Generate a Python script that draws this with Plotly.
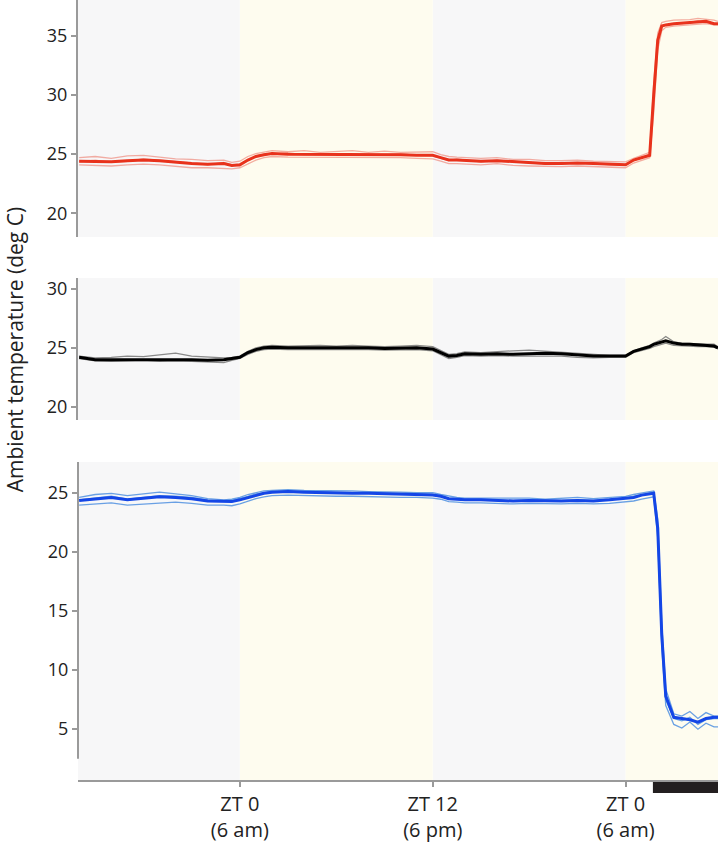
import plotly.graph_objects as go
from plotly.subplots import make_subplots

# time in hours relative to the first ZT 0 (6 am)
hours = [-10, -9, -8, -7, -6, -5, -4, -3, -2, -1, -0.5, 0, 0.5, 1, 1.5, 2, 3, 4, 5, 6,
         7, 8, 9, 10, 11, 12, 12.5, 13, 13.5, 14, 15, 16, 17, 18, 19, 20, 21, 22, 23, 24,
         24.5, 25, 25.5, 25.75, 26, 26.25, 26.5, 27, 27.5, 28, 28.5, 29, 29.5, 29.75]

# hot panel (red)
hot_mean = [24.4, 24.4, 24.35, 24.45, 24.5, 24.45, 24.3, 24.2, 24.15, 24.2, 24.05, 24.1, 24.5, 24.8, 24.95, 25.05, 25.0, 25.0, 24.95, 25.0,
            25.0, 24.95, 25.0, 24.95, 24.9, 24.9, 24.7, 24.5, 24.5, 24.45, 24.4, 24.45, 24.35, 24.3, 24.2, 24.2, 24.25, 24.2, 24.15, 24.1,
            24.5, 24.7, 24.9, 30.0, 34.6, 35.8, 35.9, 36.0, 36.05, 36.1, 36.2, 36.2, 36.0, 36.0]
hot_a = [24.7, 24.8, 24.65, 24.85, 24.9, 24.75, 24.6, 24.55, 24.45, 24.5, 24.3, 24.4, 24.8, 25.05, 25.2, 25.3, 25.2, 25.3, 25.15, 25.25,
         25.3, 25.15, 25.25, 25.15, 25.15, 25.2, 24.95, 24.8, 24.75, 24.7, 24.65, 24.7, 24.55, 24.55, 24.45, 24.45, 24.5, 24.4, 24.4, 24.35,
         24.65, 24.9, 25.15, 31.0, 35.2, 36.1, 36.2, 36.3, 36.3, 36.35, 36.45, 36.4, 36.3, 36.2]
hot_b = [24.1, 24.05, 24.0, 24.1, 24.15, 24.1, 23.95, 23.85, 23.85, 23.8, 23.75, 23.85, 24.2, 24.5, 24.7, 24.8, 24.75, 24.75, 24.7, 24.75,
         24.7, 24.7, 24.75, 24.7, 24.65, 24.6, 24.4, 24.2, 24.2, 24.15, 24.1, 24.2, 24.05, 24.0, 23.95, 23.95, 24.0, 23.95, 23.9, 23.85,
         24.25, 24.5, 24.7, 28.5, 33.8, 35.4, 35.7, 35.8, 35.85, 35.9, 35.95, 36.0, 35.9, 35.9]
hot_c = [24.35, 24.5, 24.3, 24.4, 24.6, 24.5, 24.35, 24.25, 24.1, 24.3, 24.1, 24.0, 24.45, 24.85, 25.0, 25.0, 25.1, 24.95, 25.0, 24.95,
         25.05, 24.9, 24.95, 25.05, 24.9, 24.85, 24.65, 24.45, 24.6, 24.5, 24.35, 24.5, 24.4, 24.3, 24.15, 24.3, 24.2, 24.25, 24.1, 24.05,
         24.45, 24.7, 24.95, 29.5, 34.4, 35.7, 35.9, 36.0, 36.0, 36.1, 36.25, 36.15, 36.0, 35.95]

# control panel (black)
ctl_mean = [24.2, 24.0, 24.0, 24.0, 24.05, 24.0, 24.05, 24.0, 23.95, 24.0, 24.1, 24.2, 24.6, 24.85, 25.0, 25.05, 25.0, 25.0, 25.05, 25.0,
            25.0, 25.0, 24.95, 25.0, 25.0, 24.9, 24.6, 24.3, 24.35, 24.5, 24.45, 24.5, 24.45, 24.5, 24.55, 24.5, 24.4, 24.3, 24.3, 24.3,
            24.7, 24.9, 25.1, 25.3, 25.4, 25.5, 25.6, 25.4, 25.3, 25.3, 25.25, 25.2, 25.15, 25.0]
ctl_a = [24.3, 24.15, 24.2, 24.3, 24.25, 24.4, 24.55, 24.3, 24.2, 24.15, 24.2, 24.3, 24.7, 25.0, 25.15, 25.2, 25.15, 25.2, 25.2, 25.15,
         25.2, 25.15, 25.1, 25.15, 25.2, 25.1, 24.75, 24.45, 24.5, 24.65, 24.6, 24.7, 24.75, 24.8, 24.7, 24.6, 24.5, 24.4, 24.35, 24.35,
         24.75, 25.0, 25.2, 25.4, 25.55, 25.7, 25.95, 25.5, 25.4, 25.35, 25.35, 25.3, 25.3, 25.1]
ctl_b = [24.1, 23.9, 23.85, 23.9, 23.95, 23.85, 23.9, 23.85, 23.8, 23.75, 23.95, 24.1, 24.45, 24.7, 24.85, 24.9, 24.85, 24.85, 24.9, 24.85,
         24.85, 24.85, 24.8, 24.85, 24.85, 24.75, 24.45, 24.1, 24.2, 24.35, 24.3, 24.35, 24.3, 24.3, 24.35, 24.3, 24.2, 24.15, 24.2, 24.2,
         24.6, 24.75, 24.95, 25.1, 25.2, 25.3, 25.4, 25.2, 25.15, 25.1, 25.1, 25.1, 25.05, 24.9]

# cold panel (blue)
cold_mean = [24.35, 24.5, 24.6, 24.4, 24.5, 24.65, 24.6, 24.5, 24.3, 24.25, 24.25, 24.4, 24.6, 24.8, 24.95, 25.05, 25.1, 25.05, 25.0, 25.0,
             24.95, 24.95, 24.9, 24.9, 24.85, 24.8, 24.7, 24.5, 24.45, 24.4, 24.4, 24.35, 24.3, 24.35, 24.3, 24.3, 24.35, 24.3, 24.4, 24.5,
             24.6, 24.8, 24.9, 24.95, 22.0, 13.0, 7.8, 6.0, 5.9, 5.8, 5.6, 5.9, 6.0, 6.0]
cold_a = [24.6, 24.85, 24.95, 24.75, 24.9, 25.05, 24.9, 24.75, 24.5, 24.4, 24.45, 24.6, 24.85, 25.0, 25.15, 25.2, 25.25, 25.2, 25.2, 25.15,
          25.15, 25.1, 25.1, 25.05, 25.0, 25.0, 24.85, 24.7, 24.6, 24.55, 24.55, 24.5, 24.5, 24.55, 24.45, 24.5, 24.6, 24.5, 24.6, 24.7,
          24.85, 25.0, 25.1, 25.15, 22.8, 14.0, 8.4, 6.3, 6.1, 6.5, 5.9, 6.4, 6.1, 6.1]
cold_b = [23.95, 24.05, 24.15, 23.95, 24.05, 24.15, 24.2, 24.1, 23.95, 23.95, 23.9, 24.05, 24.3, 24.5, 24.65, 24.75, 24.8, 24.75, 24.75, 24.7,
          24.7, 24.65, 24.65, 24.6, 24.6, 24.55, 24.45, 24.25, 24.2, 24.15, 24.15, 24.1, 24.05, 24.1, 24.05, 24.05, 24.1, 24.05, 24.1, 24.2,
          24.3, 24.45, 24.6, 24.65, 21.2, 12.0, 7.0, 5.4, 5.1, 5.6, 5.0, 5.5, 5.2, 5.2]
cold_c = [24.4, 24.55, 24.7, 24.45, 24.6, 24.75, 24.7, 24.6, 24.4, 24.3, 24.35, 24.5, 24.7, 24.9, 25.0, 25.1, 25.15, 25.1, 25.05, 25.05,
          25.0, 25.0, 24.95, 24.95, 24.9, 24.85, 24.75, 24.55, 24.5, 24.45, 24.45, 24.4, 24.35, 24.4, 24.35, 24.35, 24.4, 24.35, 24.45, 24.55,
          24.7, 24.85, 25.0, 25.05, 21.6, 12.6, 7.5, 5.9, 5.7, 6.0, 5.4, 5.8, 5.9, 5.9]

# light periods (yellow) and dark periods (gray)
dark_periods = [(-10.1, 0), (12, 24)]
light_periods = [(0, 12), (24, 29.75)]
treatment = (25.7, 29.75)

tick_vals = [0, 12, 24]
tick_text = ["ZT 0<br>(6 am)", "ZT 12<br>(6 pm)", "ZT 0<br>(6 am)"]

panels = [
    (1, [hot_a, hot_b, hot_c], hot_mean, "rgba(236,120,105,0.6)", "#e8321c", [18.0, 38.0], [20, 25, 30, 35]),
    (2, [ctl_a, ctl_b], ctl_mean, "rgba(110,110,110,0.8)", "#000000", [18.9, 30.9], [20, 25, 30]),
    (3, [cold_a, cold_b, cold_c], cold_mean, "rgba(80,145,225,0.85)", "#1446e6", [0.7, 27.6], [5, 10, 15, 20, 25]),
]

fig = make_subplots(rows=3, cols=1, shared_xaxes=True)

for row, singles, mean, thin_col, thick_col, yrange, yticks in panels:
    for s in singles:
        fig.add_trace(go.Scatter(x=hours, y=s, mode="lines",
                                 line=dict(color=thin_col, width=1.3)), row=row, col=1)
    fig.add_trace(go.Scatter(x=hours, y=mean, mode="lines",
                             line=dict(color=thick_col, width=3)), row=row, col=1)
    fig.update_yaxes(range=yrange, tickvals=yticks, row=row, col=1)
    for x0, x1 in dark_periods:
        fig.add_vrect(x0=x0, x1=x1, fillcolor="#f7f7f8", line_width=0, layer="below", row=row, col=1)
    for x0, x1 in light_periods:
        fig.add_vrect(x0=x0, x1=x1, fillcolor="#fefcef", line_width=0, layer="below", row=row, col=1)

fig.update_yaxes(showgrid=False, zeroline=False, ticks="outside", ticklen=5, tickwidth=1.5,
                 tickcolor="#9a9a9a", showline=True, linecolor="#9a9a9a", linewidth=2,
                 tickfont=dict(size=18, color="#222"))
fig.update_yaxes(showline=False, row=3, col=1)
fig.update_xaxes(showgrid=False, zeroline=False, range=[-10.07, 29.75])
fig.update_xaxes(visible=False, row=1, col=1)
fig.update_xaxes(visible=False, row=2, col=1)
fig.update_xaxes(showline=True, linecolor="#9a9a9a", linewidth=2, ticks="outside", ticklen=5,
                 tickwidth=1.5, tickcolor="#9a9a9a", tickvals=tick_vals, ticktext=tick_text,
                 tickfont=dict(size=20, color="#222"), row=3, col=1)

# shortened left axis line of the bottom panel
fig.add_shape(type="line", xref="x3 domain", yref="y3", x0=0, x1=0, y0=2.5, y1=27.6,
              line=dict(color="#9a9a9a", width=2))

# black bar marking the treatment window
fig.add_shape(type="rect", xref="x3", yref="paper", x0=treatment[0], x1=treatment[1],
              y0=-0.0167, y1=-0.0026, fillcolor="#231f20", line_width=0)

fig.add_annotation(text="Ambient temperature (deg C)", xref="paper", yref="paper",
                   x=-0.0984, y=0.551, textangle=-90, showarrow=False,
                   font=dict(size=21, color="#222"), xanchor="center", yanchor="middle")

fig.update_layout(
    width=720, height=848,
    margin=dict(l=78, r=2, t=0, b=68, autoexpand=False),
    paper_bgcolor="white", plot_bgcolor="white",
    showlegend=False,
    font=dict(family="Open Sans, Noto Sans, sans-serif"),
    yaxis=dict(domain=[0.696, 1.0]),
    yaxis2=dict(domain=[0.4615, 0.6436]),
    yaxis3=dict(domain=[0.0, 0.4077]),
)

# the page body has a default margin; drop it so the figure fills the window
fig.write_html("out.html", config={"displayModeBar": False},
               post_script="document.body.style.margin='0px';")
